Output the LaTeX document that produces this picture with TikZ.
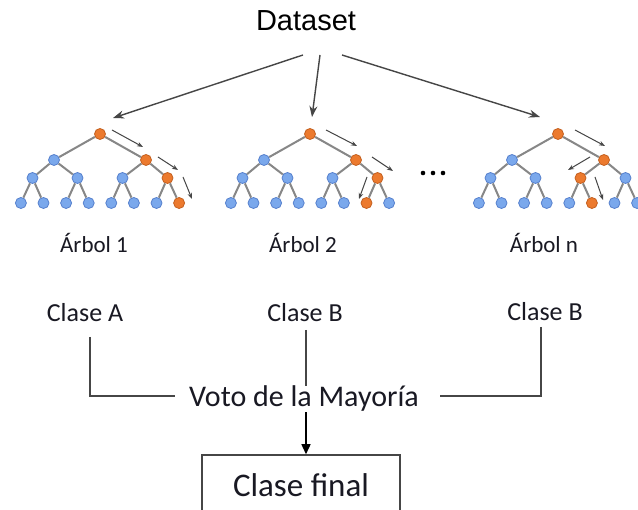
\documentclass[tikz,border=0pt]{standalone}
\usepackage{fontspec}
\setmainfont{Carlito}
\newfontfamily\arialf{Liberation Sans}
\usetikzlibrary{arrows.meta}
\definecolor{blf}{RGB}{122,168,236}
\definecolor{bld}{RGB}{86,128,205}
\definecolor{orf}{RGB}{236,122,46}
\definecolor{ord}{RGB}{196,96,32}
\definecolor{edgc}{RGB}{135,135,135}
\definecolor{arrc}{RGB}{70,70,70}
\definecolor{txtc}{RGB}{25,25,35}
\tikzset{
  tn/.style={circle,inner sep=0pt,minimum size=11pt,line width=0.8pt},
  edg/.style={draw=edgc,line width=2pt},
  sarr/.style={draw=arrc,line width=1pt,-{Stealth[length=6pt,width=4.5pt]}},
  darr/.style={draw=arrc,line width=1.4pt,-{Stealth[length=11pt,width=8pt]}},
  brk/.style={draw=arrc,line width=1.5pt},
  lab/.style={inner sep=0pt,text=txtc},
}
\newcommand\rftree[5]{%
  \node[tn,fill=orf,draw=ord] (#1r) at (#2,134) {};
  \foreach \i in {1,2}{%
    \ifnum\i=#3\relax\def\fc{orf}\def\dc{ord}\else\def\fc{blf}\def\dc{bld}\fi
    \node[tn,fill=\fc,draw=\dc] (#1a\i) at ({#2+(\i-1.5)*92},160) {};
    \draw[edg] (#1r) -- (#1a\i);
  }
  \foreach \j in {1,...,4}{%
    \pgfmathtruncatemacro\p{(\j+1)/2}
    \ifnum\j=#4\relax\def\fc{orf}\def\dc{ord}\else\def\fc{blf}\def\dc{bld}\fi
    \node[tn,fill=\fc,draw=\dc] (#1b\j) at ({#2+(\j-2.5)*45},178) {};
    \draw[edg] (#1a\p) -- (#1b\j);
  }
  \foreach \k in {1,...,8}{%
    \pgfmathtruncatemacro\p{(\k+1)/2}
    \ifnum\k=#5\relax\def\fc{orf}\def\dc{ord}\else\def\fc{blf}\def\dc{bld}\fi
    \node[tn,fill=\fc,draw=\dc] (#1c\k) at ({#2+(\k-4.5)*22.6},203) {};
    \draw[edg] (#1b\p) -- (#1c\k);
  }
}
\begin{document}
\begin{tikzpicture}[x=1pt,y=-1pt]
\useasboundingbox (0,0) rectangle (638,510);
\clip (0,0) rectangle (638,510);
\fill[white] (0,0) rectangle (638,510);

% title
\node[lab,text=black,font=\arialf\fontsize{29}{33}\selectfont] (ds) at (306,21) {Dataset};

% trees
\rftree{p}{100}{2}{4}{8}
\rftree{q}{310}{2}{4}{7}
\rftree{s}{558}{2}{3}{6}

% dots
\foreach \x [count=\n] in {423,433,443}
  \fill[black] (\x,173) circle (2.3) coordinate (dot\n);

% dataset arrows
\coordinate (d1) at (303,55);
\coordinate (d2) at (320,55);
\coordinate (d3) at (342,55);
\coordinate (e1) at (113,118);
\coordinate (e2) at (312,117);
\coordinate (e3) at (540,117);
\draw[darr] (d1) -- (e1);
\draw[darr] (d2) -- (e2);
\draw[darr] (d3) -- (e3);

% path arrows in trees
\coordinate (pa1) at (112,130); \coordinate (pb1) at (143,147);
\coordinate (pa2) at (158,157); \coordinate (pb2) at (178,170);
\coordinate (pa3) at (183,177); \coordinate (pb3) at (192,199);
\coordinate (qa1) at (326,130); \coordinate (qb1) at (357,146);
\coordinate (qa2) at (372,157); \coordinate (qb2) at (393,171);
\coordinate (qa3) at (367,177); \coordinate (qb3) at (359,199);
\coordinate (sa1) at (575,130); \coordinate (sb1) at (605,146);
\coordinate (sa2) at (590,157); \coordinate (sb2) at (568,170);
\coordinate (sa3) at (595,177); \coordinate (sb3) at (603,200);
\foreach \t in {p,q,s}
  \foreach \m in {1,2,3}
    \draw[sarr] (\t a\m) -- (\t b\m);

% tree labels
\node[lab,font=\fontsize{23}{27}\selectfont] (arb1) at (94,243) {Árbol 1};
\node[lab,font=\fontsize{23}{27}\selectfont] (arb2) at (303,243) {Árbol 2};
\node[lab,font=\fontsize{23}{27}\selectfont] (arbn) at (544,243) {Árbol n};

% class labels
\node[lab,font=\fontsize{26}{30}\selectfont] (ca) at (85,313) {Clase A};
\node[lab,font=\fontsize{26}{30}\selectfont] (cb) at (305,313) {Clase B};
\node[lab,font=\fontsize{26}{30}\selectfont] (cc) at (545,312) {Clase B};

% vote
\node[lab,anchor=base,font=\fontsize{30}{34}\selectfont] (voto) at (304,407) {Voto de la Mayoría};
\coordinate (ca1) at (90,337);
\coordinate (cc1) at (541,327);
\coordinate (cb1) at (306,330);
\coordinate (vl) at (175,396);
\coordinate (vr) at (440,396);
\draw[brk] (ca1) |- (vl);
\draw[brk] (cc1) |- (vr);
\draw[brk] (cb1) -- (cb1 |- voto.north);

% final
\node[draw=arrc,line width=1.5pt,minimum width=198pt,minimum height=60pt,inner sep=0pt,
      text=txtc,font=\fontsize{33}{38}\selectfont] (final) at (301,485) {Clase final};
\draw[draw=black,line width=1.4pt,-{Triangle[length=10pt,width=9pt]}] (cb1 |- voto.south) -- (cb1 |- final.north);
\end{tikzpicture}
\end{document}
